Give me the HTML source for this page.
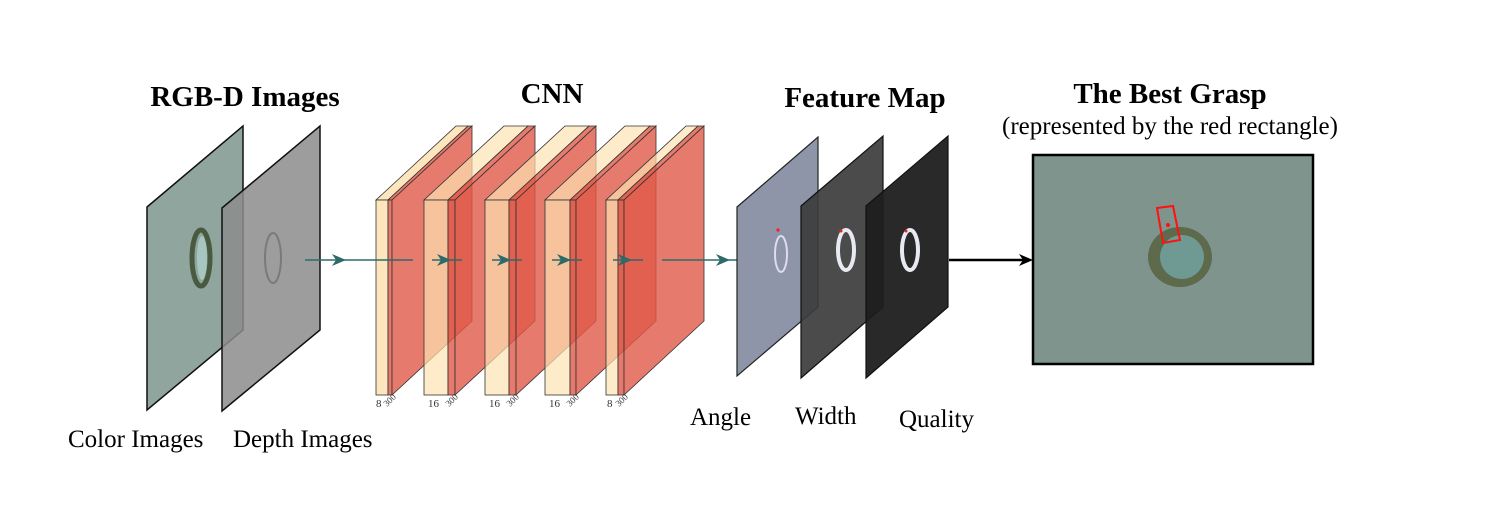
<!DOCTYPE html>
<html><head><style>body{margin:0;background:#fff}svg{display:block}</style></head><body>
<svg width="1508" height="527" viewBox="0 0 1508 527" xmlns="http://www.w3.org/2000/svg" font-family="Liberation Serif, serif">
<g font-weight="bold" font-size="29" text-anchor="middle" fill="#000">
<text x="245" y="106">RGB-D Images</text>
<text x="552" y="103">CNN</text>
<text x="865" y="107">Feature Map</text>
<text x="1170" y="103">The Best Grasp</text>
</g>
<text x="1170" y="134" font-size="25" text-anchor="middle">(represented by the red rectangle)</text>
<!-- input planes -->
<polygon points="147,207 243,126 243,330 147,410" fill="#8fa59e" stroke="#111" stroke-width="1.5"/>
<ellipse cx="201" cy="258" rx="9" ry="28" fill="none" stroke="#4a5a40" stroke-width="5"/>
<ellipse cx="202" cy="258" rx="5" ry="22" fill="#a8c6c0"/>
<polygon points="222,208 320,126 320,330 222,411" fill="#8c8c8c" fill-opacity="0.85" stroke="#111" stroke-width="1.5"/>
<ellipse cx="273" cy="258" rx="8" ry="25" fill="none" stroke="#7a7a7a" stroke-width="2"/>
<!-- CNN blocks -->
<g stroke="#333" stroke-width="0.8">
<g fill="#fde2b2" fill-opacity="0.85">
<polygon points="376,200 388,200 468,126 456,126"/><rect x="376" y="200" width="12" height="195"/>
</g>
<g fill="#e05a48" fill-opacity="0.8">
<polygon points="388,200 392,200 472,126 468,126"/><rect x="388" y="200" width="4" height="195"/><polygon points="392,200 472,126 472,321 392,395"/>
</g>
<g fill="#fde2b2" fill-opacity="0.7">
<polygon points="424,200 448,200 528,126 504,126"/><rect x="424" y="200" width="24" height="195"/>
</g>
<g fill="#e05a48" fill-opacity="0.8">
<polygon points="448,200 455,200 535,126 528,126"/><rect x="448" y="200" width="7" height="195"/><polygon points="455,200 535,126 535,321 455,395"/>
</g>
<g fill="#fde2b2" fill-opacity="0.7">
<polygon points="485,200 509,200 589,126 565,126"/><rect x="485" y="200" width="24" height="195"/>
</g>
<g fill="#e05a48" fill-opacity="0.8">
<polygon points="509,200 516,200 596,126 589,126"/><rect x="509" y="200" width="7" height="195"/><polygon points="516,200 596,126 596,321 516,395"/>
</g>
<g fill="#fde2b2" fill-opacity="0.7">
<polygon points="545,200 570,200 650,126 625,126"/><rect x="545" y="200" width="25" height="195"/>
</g>
<g fill="#e05a48" fill-opacity="0.8">
<polygon points="570,200 576,200 656,126 650,126"/><rect x="570" y="200" width="6" height="195"/><polygon points="576,200 656,126 656,321 576,395"/>
</g>
<g fill="#fde2b2" fill-opacity="0.7">
<polygon points="606,200 618,200 698,126 686,126"/><rect x="606" y="200" width="12" height="195"/>
</g>
<g fill="#e05a48" fill-opacity="0.8">
<polygon points="618,200 624,200 704,126 698,126"/><rect x="618" y="200" width="6" height="195"/><polygon points="624,200 704,126 704,321 624,395"/>
</g>
</g>
<g font-size="11" fill="#333">
<text x="376" y="407">8</text><text x="428" y="407">16</text><text x="489" y="407">16</text><text x="549" y="407">16</text><text x="607" y="407">8</text>
<text x="387" y="407" transform="rotate(-45 387 407)" font-size="9">300</text>
<text x="449" y="407" transform="rotate(-45 449 407)" font-size="9">300</text>
<text x="510" y="407" transform="rotate(-45 510 407)" font-size="9">300</text>
<text x="570" y="407" transform="rotate(-45 570 407)" font-size="9">300</text>
<text x="619" y="407" transform="rotate(-45 619 407)" font-size="9">300</text>
</g>
<!-- teal arrows -->
<g stroke="#2d6b6b" stroke-width="1.5">
<line x1="305" y1="260" x2="413" y2="260"/><line x1="432" y1="260" x2="462" y2="260"/><line x1="492" y1="260" x2="522" y2="260"/><line x1="552" y1="260" x2="582" y2="260"/><line x1="613" y1="260" x2="643" y2="260"/><line x1="662" y1="260" x2="748" y2="260"/>
</g>
<g fill="#2d6b6b">
<polygon points="346,260 332,254 336,260 332,266"/><polygon points="451,260 437,254 441,260 437,266"/><polygon points="511,260 497,254 501,260 497,266"/><polygon points="571,260 557,254 561,260 557,266"/><polygon points="632,260 618,254 622,260 618,266"/><polygon points="730,260 716,254 720,260 716,266"/>
</g>
<!-- feature maps -->
<polygon points="737,207 818,137 818,307 737,376" fill="#8e95a8" stroke="#222" stroke-width="1.2"/>
<ellipse cx="781" cy="254" rx="6" ry="18" fill="none" stroke="#dde" stroke-width="2"/>
<circle cx="778" cy="230" r="1.6" fill="#e22"/>
<polygon points="801,206 883,136 883,307 801,378" fill="#3c3c3c" fill-opacity="0.92" stroke="#111" stroke-width="1.2"/>
<ellipse cx="846" cy="250" rx="8" ry="20" fill="none" stroke="#e8eaf2" stroke-width="4"/>
<circle cx="841" cy="231" r="1.5" fill="#e22"/>
<polygon points="866,206 948,136 948,307 866,378" fill="#1e1e1e" fill-opacity="0.95" stroke="#111" stroke-width="1.2"/>
<ellipse cx="910" cy="250" rx="8" ry="20" fill="none" stroke="#e8eaf2" stroke-width="4"/>
<circle cx="906" cy="231" r="1.5" fill="#e22"/>
<!-- black arrow -->
<line x1="949" y1="260" x2="1026" y2="260" stroke="#000" stroke-width="2.5"/>
<polygon points="1033,260 1019,254 1023,260 1019,266" fill="#000"/>
<!-- result image -->
<rect x="1033" y="155" width="280" height="209" fill="#7f948c" stroke="#000" stroke-width="2.5"/>
<ellipse cx="1180" cy="257" rx="32" ry="30" fill="#5d6a4c"/>
<ellipse cx="1182" cy="257" rx="22" ry="22" fill="#6f9a94"/>
<polygon points="1157,208 1173,206 1180,240 1163,243" fill="none" stroke="#f11" stroke-width="2"/>
<circle cx="1168" cy="225" r="2" fill="#f11"/>
<g font-size="25" fill="#000">
<text x="68" y="447">Color Images</text>
<text x="233" y="447">Depth Images</text>
<text x="690" y="425">Angle</text>
<text x="795" y="424">Width</text>
<text x="899" y="427">Quality</text>
</g>
</svg>
</body></html>
